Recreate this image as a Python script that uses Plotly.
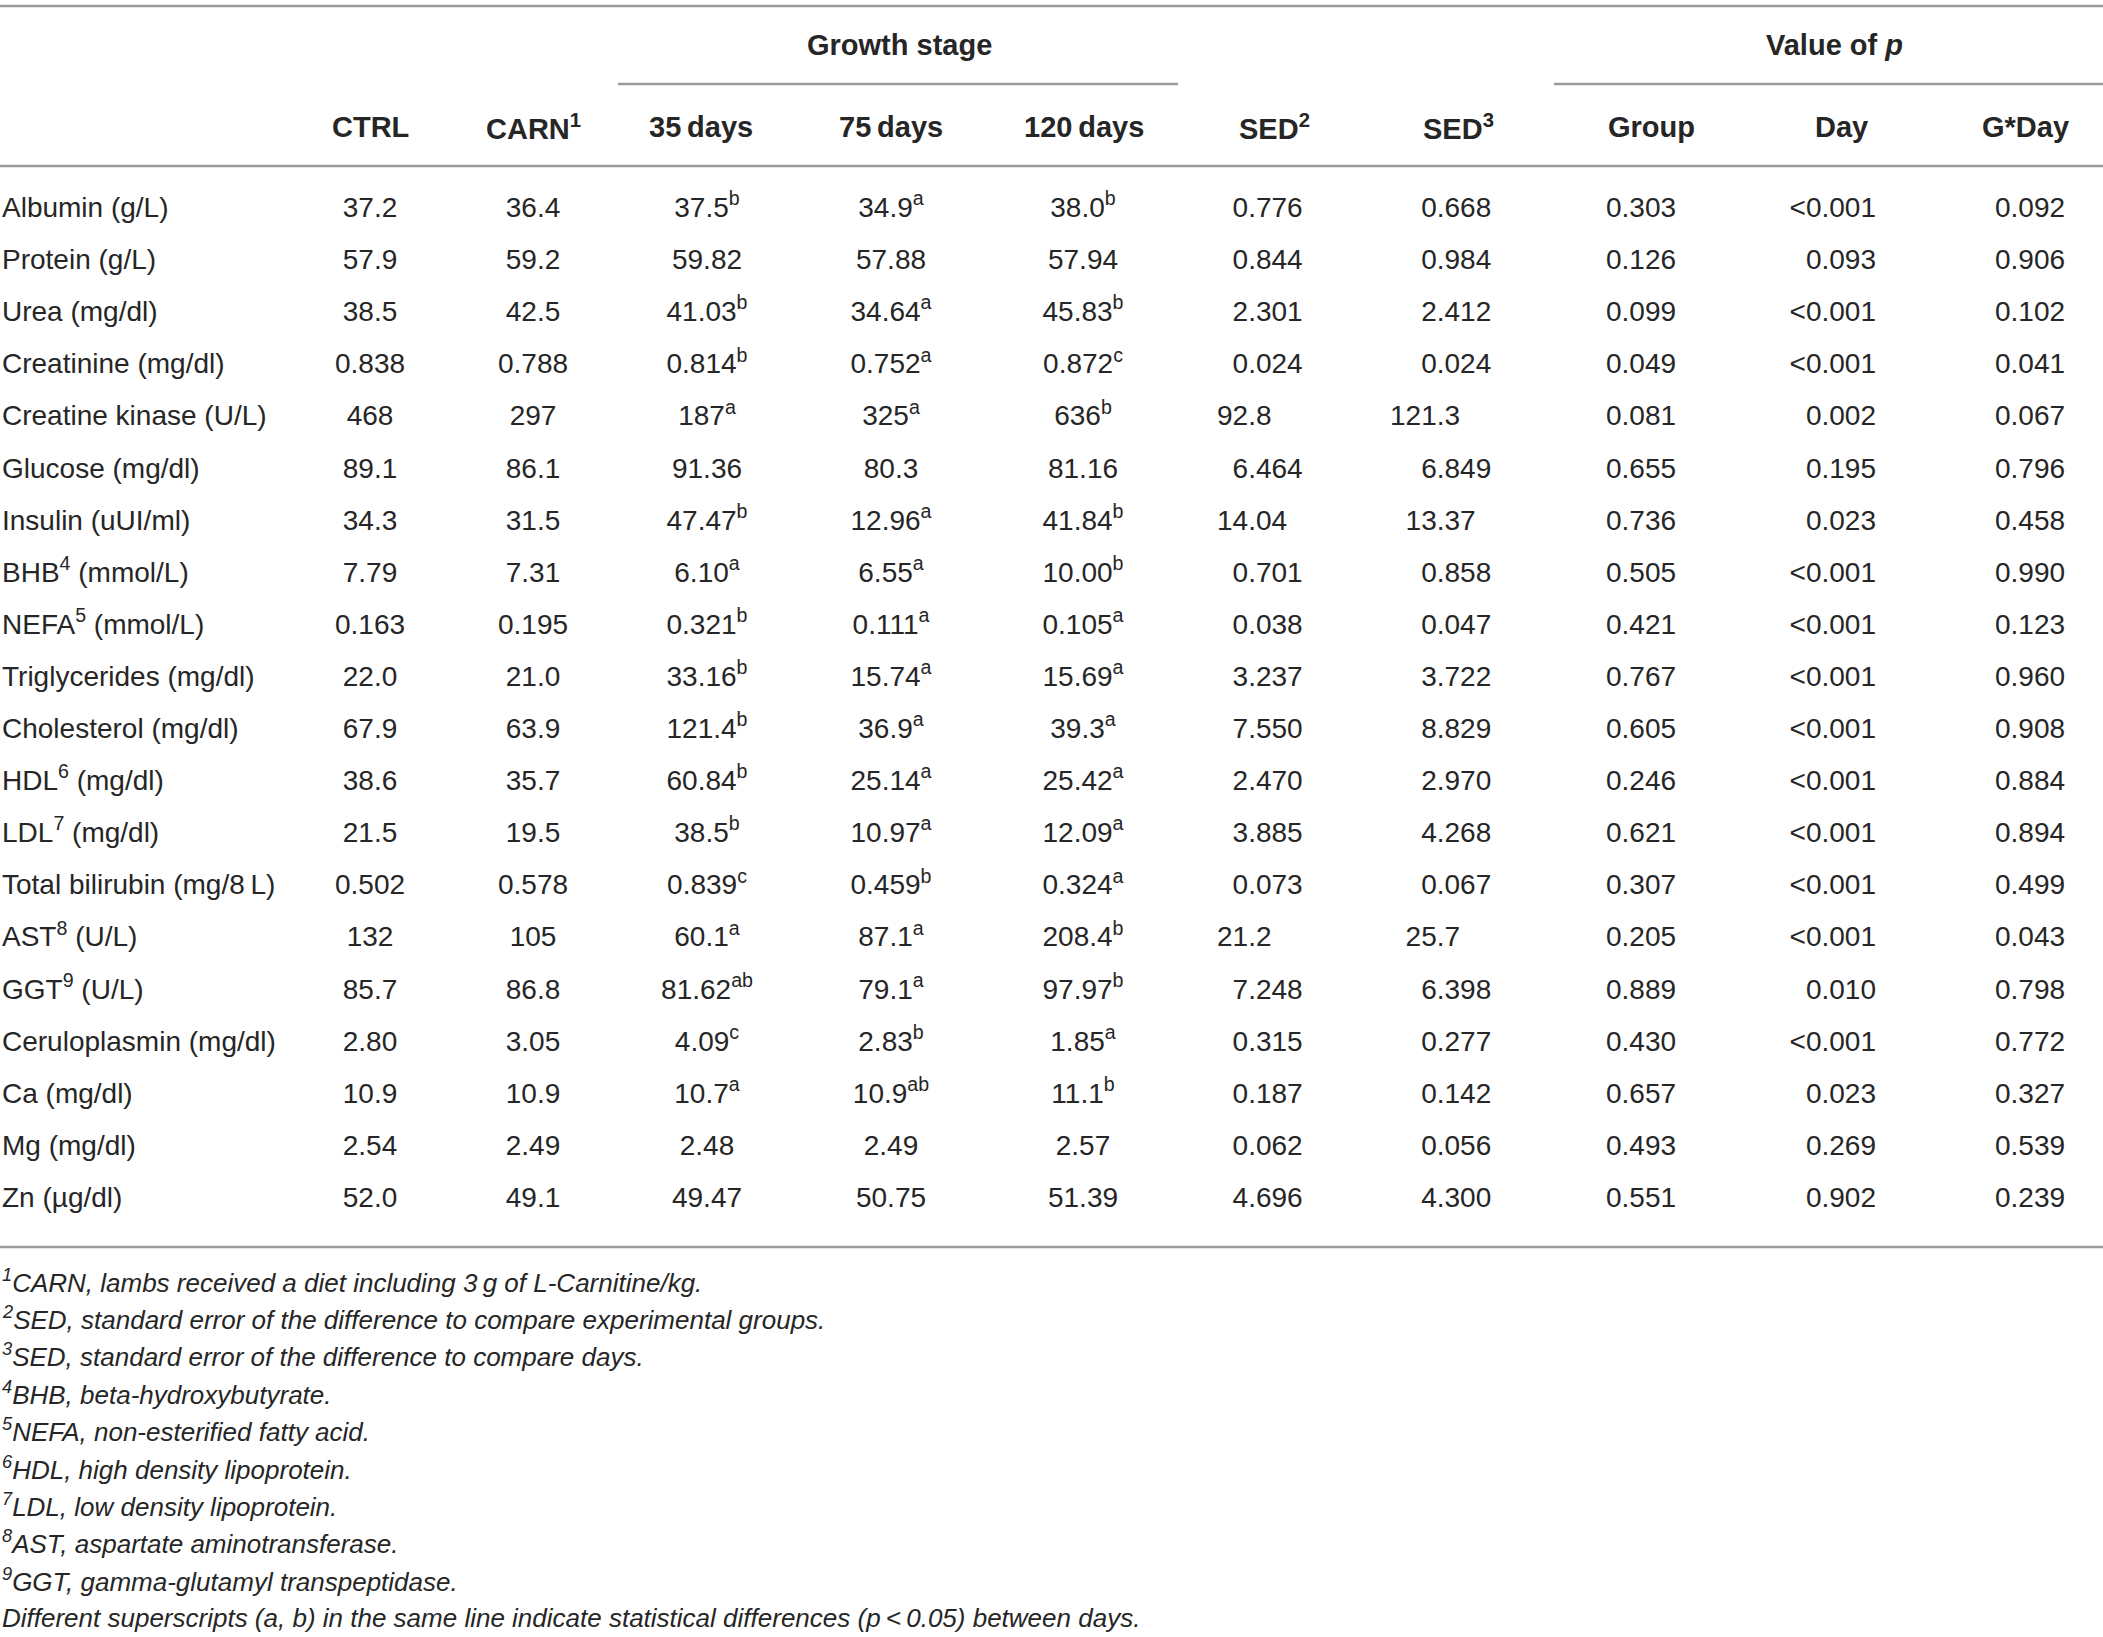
import plotly.graph_objects as go

# table values, row by row
labels = ["Albumin (g/L)", "Protein (g/L)", "Urea (mg/dl)", "Creatinine (mg/dl)",
          "Creatine kinase (U/L)", "Glucose (mg/dl)", "Insulin (uUI/ml)",
          "BHB<sup>4</sup> (mmol/L)", "NEFA<sup>5</sup> (mmol/L)", "Triglycerides (mg/dl)",
          "Cholesterol (mg/dl)", "HDL<sup>6</sup> (mg/dl)", "LDL<sup>7</sup> (mg/dl)",
          "Total bilirubin (mg/8\u2009L)", "AST<sup>8</sup> (U/L)", "GGT<sup>9</sup> (U/L)",
          "Ceruloplasmin (mg/dl)", "Ca (mg/dl)", "Mg (mg/dl)", "Zn (\u00b5g/dl)"]
ctrl = ["37.2", "57.9", "38.5", "0.838", "468", "89.1", "34.3", "7.79", "0.163", "22.0",
        "67.9", "38.6", "21.5", "0.502", "132", "85.7", "2.80", "10.9", "2.54", "52.0"]
carn = ["36.4", "59.2", "42.5", "0.788", "297", "86.1", "31.5", "7.31", "0.195", "21.0",
        "63.9", "35.7", "19.5", "0.578", "105", "86.8", "3.05", "10.9", "2.49", "49.1"]
d35 = ["37.5", "59.82", "41.03", "0.814", "187", "91.36", "47.47", "6.10", "0.321", "33.16",
       "121.4", "60.84", "38.5", "0.839", "60.1", "81.62", "4.09", "10.7", "2.48", "49.47"]
d35_sig = ["b", "", "b", "b", "a", "", "b", "a", "b", "b",
           "b", "b", "b", "c", "a", "ab", "c", "a", "", ""]
d75 = ["34.9", "57.88", "34.64", "0.752", "325", "80.3", "12.96", "6.55", "0.111", "15.74",
       "36.9", "25.14", "10.97", "0.459", "87.1", "79.1", "2.83", "10.9", "2.49", "50.75"]
d75_sig = ["a", "", "a", "a", "a", "", "a", "a", "a", "a",
           "a", "a", "a", "b", "a", "a", "b", "ab", "", ""]
d120 = ["38.0", "57.94", "45.83", "0.872", "636", "81.16", "41.84", "10.00", "0.105", "15.69",
        "39.3", "25.42", "12.09", "0.324", "208.4", "97.97", "1.85", "11.1", "2.57", "51.39"]
d120_sig = ["b", "", "b", "c", "b", "", "b", "b", "a", "a",
            "a", "a", "a", "a", "b", "b", "a", "b", "", ""]
sed_group = ["0.776", "0.844", "2.301", "0.024", "92.8", "6.464", "14.04", "0.701", "0.038", "3.237",
             "7.550", "2.470", "3.885", "0.073", "21.2", "7.248", "0.315", "0.187", "0.062", "4.696"]
sed_day = ["0.668", "0.984", "2.412", "0.024", "121.3", "6.849", "13.37", "0.858", "0.047", "3.722",
           "8.829", "2.970", "4.268", "0.067", "25.7", "6.398", "0.277", "0.142", "0.056", "4.300"]
p_group = ["0.303", "0.126", "0.099", "0.049", "0.081", "0.655", "0.736", "0.505", "0.421", "0.767",
           "0.605", "0.246", "0.621", "0.307", "0.205", "0.889", "0.430", "0.657", "0.493", "0.551"]
p_day = ["<0.001", "0.093", "<0.001", "<0.001", "0.002", "0.195", "0.023", "<0.001", "<0.001", "<0.001",
         "<0.001", "<0.001", "<0.001", "<0.001", "<0.001", "0.010", "<0.001", "0.023", "0.269", "0.902"]
p_gday = ["0.092", "0.906", "0.102", "0.041", "0.067", "0.796", "0.458", "0.990", "0.123", "0.960",
          "0.908", "0.884", "0.894", "0.499", "0.043", "0.798", "0.772", "0.327", "0.539", "0.239"]

col_headers = ["CTRL", "CARN<sup>1</sup>", "35\u2009days", "75\u2009days", "120\u2009days",
               "SED<sup>2</sup>", "SED<sup>3</sup>", "Group", "Day", "G*Day"]
group_headers = ["Growth stage", "Value of <i>p</i>"]

footnotes = [
    "<sup>1</sup>CARN, lambs received a diet including 3\u2009g of L-Carnitine/kg.",
    "<sup>2</sup>SED, standard error of the difference to compare experimental groups.",
    "<sup>3</sup>SED, standard error of the difference to compare days.",
    "<sup>4</sup>BHB, beta-hydroxybutyrate.",
    "<sup>5</sup>NEFA, non-esterified fatty acid.",
    "<sup>6</sup>HDL, high density lipoprotein.",
    "<sup>7</sup>LDL, low density lipoprotein.",
    "<sup>8</sup>AST, aspartate aminotransferase.",
    "<sup>9</sup>GGT, gamma-glutamyl transpeptidase.",
    "Different superscripts (a, b) in the same line indicate statistical differences "
    "(p\u2009<\u20090.05) between days.",
]

# layout (pixels of the 2103 x 1637 page)
W, H = 2103, 1637
FONT = "Liberation Sans, Arial, sans-serif"
INK = "#262626"
RULE = "#9a9a9a"
row_y0, row_step = 210, 52.1
rows_y = [row_y0 + i * row_step for i in range(len(labels))]
header_y, group_y = 127, 45
foot_y0, foot_step = 1281, 37.4


def with_sig(vals, sigs):
    return [v + ("<sup>%s</sup>" % s if s else "") for v, s in zip(vals, sigs)]


def pad_int(vals):
    # pad integer part with figure spaces so the column lines up like the print
    n = max(len(v.split(".")[0]) for v in vals)
    return ["\u2007" * (n - len(v.split(".")[0])) + v for v in vals]


# (texts, x, textposition)
columns = [
    (labels, 2, "middle right"),
    (ctrl, 370, "middle center"),
    (carn, 533, "middle center"),
    (with_sig(d35, d35_sig), 707, "middle center"),
    (with_sig(d75, d75_sig), 891, "middle center"),
    (with_sig(d120, d120_sig), 1083, "middle center"),
    (pad_int(sed_group), 1217, "middle right"),
    (pad_int(sed_day), 1390, "middle right"),
    (p_group, 1641, "middle center"),
    (p_day, 1876, "middle left"),
    (p_gday, 2030, "middle center"),
]
header_x = [370, 533, 701, 891, 1084, 1274, 1458, 1651, 1841, 2025]
group_x = [899, 1834]

fig = go.Figure()
for texts, x, pos in columns:
    fig.add_trace(go.Scatter(
        x=[x] * len(texts), y=rows_y, text=texts, mode="text",
        textposition=pos, hoverinfo="skip", showlegend=False,
        textfont=dict(family=FONT, size=28, color=INK),
    ))

for hx, h in zip(header_x, col_headers):
    fig.add_annotation(x=hx, y=header_y, text="<b>%s</b>" % h, showarrow=False,
                       xanchor="center", yanchor="middle",
                       font=dict(family=FONT, size=29, color=INK))
for gx, g in zip(group_x, group_headers):
    fig.add_annotation(x=gx, y=group_y, text="<b>%s</b>" % g, showarrow=False,
                       xanchor="center", yanchor="middle",
                       font=dict(family=FONT, size=29, color=INK))
for i, f in enumerate(footnotes):
    fig.add_annotation(x=0, y=foot_y0 + i * foot_step, text="<i>%s</i>" % f,
                       showarrow=False, xanchor="left", yanchor="middle",
                       font=dict(family=FONT, size=26, color=INK))

# rules
for y, x0, x1 in [(6, 0, W), (84, 618, 1178), (84, 1554, W), (166, 0, W), (1247, 0, W)]:
    fig.add_shape(type="line", x0=x0, x1=x1, y0=y, y1=y,
                  line=dict(color=RULE, width=2.5))

fig.update_layout(
    width=W, height=H, margin=dict(l=0, r=0, t=0, b=0),
    paper_bgcolor="white", plot_bgcolor="white",
    xaxis=dict(range=[0, W], visible=False, fixedrange=True),
    yaxis=dict(range=[H, 0], visible=False, fixedrange=True),
)
# drop the browser's default body margin so page pixels match the figure
fig.write_html("out.html", config={"displayModeBar": False},
               post_script="document.body.style.margin='0px';")
